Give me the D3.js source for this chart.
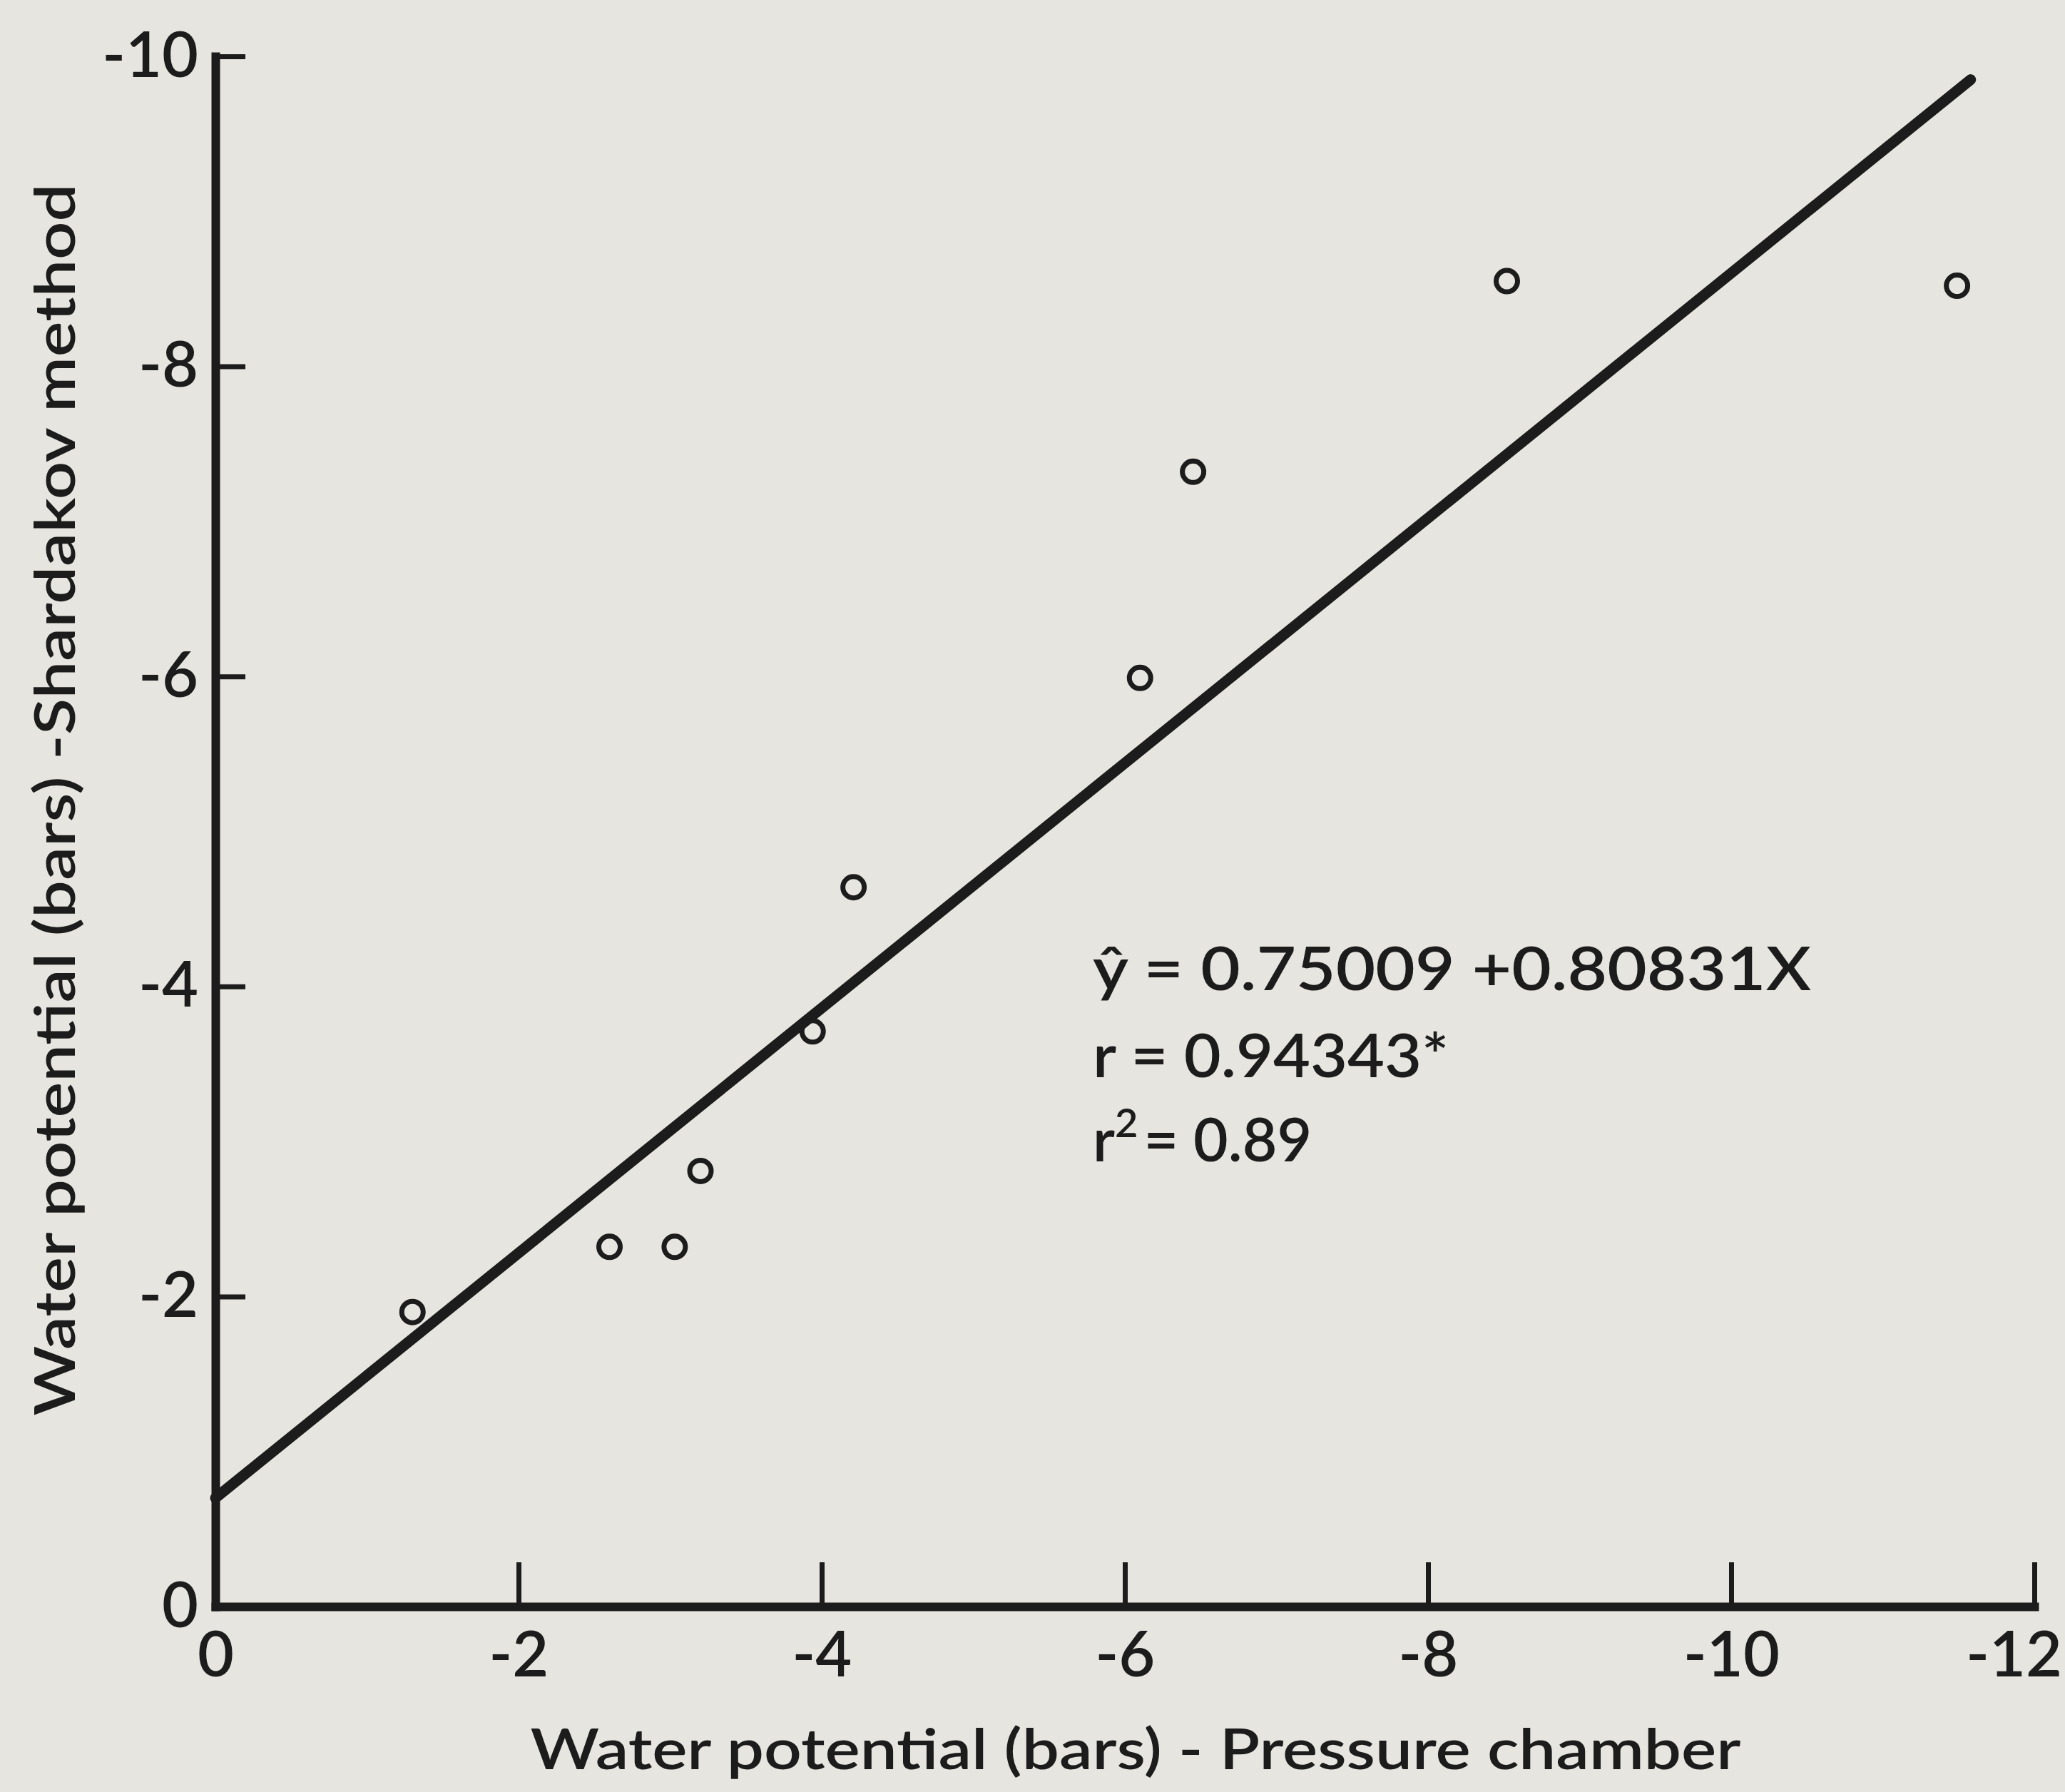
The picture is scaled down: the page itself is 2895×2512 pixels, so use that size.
<!DOCTYPE html>
<html>
<head>
<meta charset="utf-8">
<script src="https://cdn.jsdelivr.net/npm/d3@7"></script>
<style>
  html, body { margin: 0; padding: 0; background: #e6e5df; }
  svg { display: block; }
  text { font-family: Lato, "Open Sans", sans-serif; font-weight: 600; fill: #1c1c1c; }
</style>
</head>
<body>
<script>
// values (water potential in bars)
const xTicks = [0, -2, -4, -6, -8, -10, -12];
const yTicks = [0, -2, -4, -6, -8, -10];

// pressure chamber (x) vs Shardakov method (y)
const pressureChamber = [-1.30, -2.60, -3.03, -3.20, -3.94, -4.21, -6.10, -6.45, -8.52, -11.49];
const shardakov       = [-1.90, -2.32, -2.32, -2.81, -3.71, -4.64, -5.99, -7.32, -8.55, -8.52];

// regression line as drawn (start / end)
const fitX = [0, -11.58];
const fitY = [-0.70, -9.85];

const statLines = ["ŷ = 0.75009 +0.80831X", "r = 0.94343*"];
const r2Value = "= 0.89";

const xTitle = "Water potential (bars) - Pressure chamber";
const yTitle = "Water potential (bars) -Shardakov method";

// set the dimensions and margins of the graph
var margin = {top: 79, right: 43, bottom: 260, left: 302},
    width = 2895 - margin.left - margin.right,
    height = 2512 - margin.top - margin.bottom;

var root = d3.select("body")
    .append("svg")
    .attr("width", 2895)
    .attr("height", 2512);

root.append("rect")
    .attr("width", 2895)
    .attr("height", 2512)
    .attr("fill", "#e6e5df");

var svg = root.append("g")
    .attr("transform", "translate(" + margin.left + "," + margin.top + ")");

const x = d3.scaleLinear().domain([0, -12]).range([0, width]);
const y = d3.scaleLinear().domain([0, -10]).range([height, 0]);

// x axis, ticks pointing up into the plot
const gx = svg.append("g")
    .attr("transform", "translate(0," + height + ")")
    .call(d3.axisBottom(x)
        .tickValues(xTicks)
        .tickSizeInner(-62)
        .tickSizeOuter(0)
        .tickPadding(36)
        .tickFormat(d => String(d)));

// y axis, ticks pointing right
const gy = svg.append("g")
    .call(d3.axisLeft(y)
        .tickValues(yTicks)
        .tickSizeInner(-42)
        .tickSizeOuter(0)
        .tickPadding(24)
        .tickFormat(d => String(d)));

[gx, gy].forEach(g => {
  g.select(".domain").attr("stroke", "#1c1c1c").attr("stroke-width", 12).attr("stroke-linecap", "square");
  g.selectAll(".tick line").attr("stroke", "#1c1c1c").attr("stroke-width", 7);
  g.selectAll(".tick text").attr("font-size", 88).attr("fill", "#1c1c1c");
});

// keep the last x label inside the page
gx.selectAll(".tick text").each(function() {
  const b = this.getBoundingClientRect();
  if (b.right > 2891) d3.select(this).attr("dx", 2891 - b.right);
});

// regression line
const fit = fitX.map((v, i) => ({x: v, y: fitY[i]}));
const valueline = d3.line()
    .x(d => x(d.x))
    .y(d => y(d.y));
svg.append("path")
    .datum(fit)
    .attr("fill", "none")
    .attr("stroke", "#1c1c1c")
    .attr("stroke-width", 15)
    .attr("stroke-linecap", "round")
    .attr("d", valueline);

// open circles
const pts = pressureChamber.map((v, i) => ({x: v, y: shardakov[i]}));
svg.selectAll("circle.pt")
    .data(pts)
    .enter().append("circle")
    .attr("class", "pt")
    .attr("cx", d => x(d.x))
    .attr("cy", d => y(d.y))
    .attr("r", 15)
    .attr("fill", "none")
    .attr("stroke", "#1c1c1c")
    .attr("stroke-width", 7);

// statistics block
const statX = 1532;
const statBase = [1388, 1510];
const statWidth = [1007, 499];
statLines.forEach((s, i) => {
  root.append("text")
      .attr("x", statX)
      .attr("y", statBase[i])
      .attr("font-size", 84)
      .attr("textLength", statWidth[i])
      .attr("lengthAdjust", "spacingAndGlyphs")
      .text(s);
});
const r2 = root.append("text")
    .attr("x", statX)
    .attr("y", 1628)
    .attr("font-size", 84);
r2.append("tspan").text("r");
r2.append("tspan").attr("font-size", 56).attr("dy", -34).text("2");
r2.append("tspan").attr("dy", 34).attr("dx", 8).text(r2Value);

// axis titles
root.append("text")
    .attr("x", 1592)
    .attr("y", 2480)
    .attr("text-anchor", "middle")
    .attr("font-size", 78)
    .attr("textLength", 1697)
    .attr("lengthAdjust", "spacingAndGlyphs")
    .text(xTitle);

root.append("text")
    .attr("transform", "translate(105,1121) rotate(-90)")
    .attr("text-anchor", "middle")
    .attr("font-size", 78)
    .attr("textLength", 1727)
    .attr("lengthAdjust", "spacingAndGlyphs")
    .text(yTitle);
</script>
</body>
</html>
